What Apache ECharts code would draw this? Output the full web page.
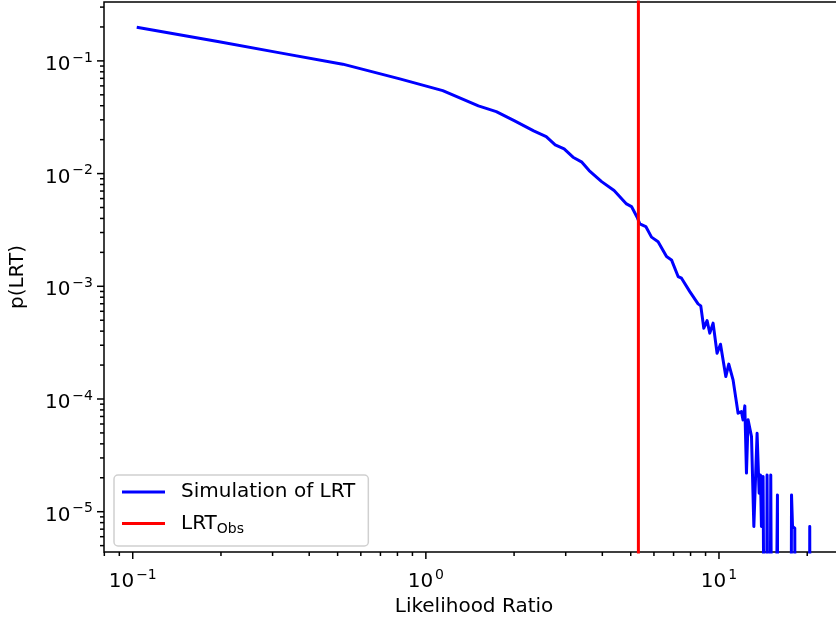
<!DOCTYPE html>
<html><head><meta charset="utf-8">
<script src="https://cdn.jsdelivr.net/npm/echarts@6/dist/echarts.min.js"></script>
<style>html,body{margin:0;padding:0;background:#fff}#c{width:836px;height:624px}</style>
</head><body><div id="c"></div>
<script>
// ---- data ----
const simX = [0.1032, 0.195, 0.318, 0.5206, 0.815, 1.142, 1.511, 1.739, 2.001, 2.333,
  2.574, 2.762, 2.963, 3.177, 3.407, 3.606, 3.978, 4.387, 4.836, 5.030,
  5.257, 5.370, 5.628, 5.886, 6.199, 6.623, 6.887, 7.254, 7.451, 7.953,
  8.486, 8.668, 8.876, 9.108, 9.303, 9.548, 9.851, 10.12, 10.55, 10.80,
  11.17, 11.62, 11.93, 12.08, 12.25, 12.41, 12.57, 12.91, 13.15, 13.49,
  13.71, 13.85, 13.96, 14.14, 14.33, 14.44, 14.59, 14.82, 15.02, 15.29,
  15.83, 15.91, 17.51, 17.68, 17.82, 18.14, 18.28, 20.29, 20.40, 20.52];
const simY = [0.199, 0.1483, 0.1178, 0.0935, 0.0692, 0.0545, 0.0399, 0.0355, 0.02954, 0.02393,
  0.02129, 0.01798, 0.01656, 0.01398, 0.01263, 0.01063, 0.00849, 0.00707, 0.00538, 0.00510,
  0.00410, 0.00358, 0.00339, 0.00273, 0.00249, 0.001835, 0.001715, 0.00122, 0.00118, 0.000897,
  0.000698, 0.00067, 0.000425, 0.000496, 0.000384, 0.000471, 0.000255, 0.000306, 0.000158, 0.000204,
  0.0001478, 7.48e-5, 7.73e-5, 6.53e-5, 8.69e-5, 2.20e-5, 6.53e-5, 4.64e-5, 7.38e-6, 4.97e-5,
  1.46e-5, 2.12e-5, 7.38e-6, 2.05e-5, 2.05e-5, 0, 2.12e-5, 0, 2.12e-5, 0,
  1.41e-5, 0, 0, 1.41e-5, 7.38e-6, 7.14e-6, 0, 0, 7.38e-6, 0];
const obsLRT = 5.31;
const xRange = [0.0798, 26.7];
const yRange = [4.39e-6, 0.333];
const xMajorTicks = [0.1, 1, 10];
const xMinorTicks = [0.08, 0.09, 0.2, 0.3, 0.4, 0.5, 0.6, 0.7, 0.8, 0.9, 2, 3, 4, 5, 6, 7, 8, 9, 20];
const yMajorTicks = [1e-5, 1e-4, 1e-3, 1e-2, 1e-1];
const yMinorTicks = [5e-6, 6e-6, 7e-6, 8e-6, 9e-6,
  2e-5, 3e-5, 4e-5, 5e-5, 6e-5, 7e-5, 8e-5, 9e-5,
  2e-4, 3e-4, 4e-4, 5e-4, 6e-4, 7e-4, 8e-4, 9e-4,
  2e-3, 3e-3, 4e-3, 5e-3, 6e-3, 7e-3, 8e-3, 9e-3,
  0.02, 0.03, 0.04, 0.05, 0.06, 0.07, 0.08, 0.09, 0.2, 0.3];
const seriesNames = ['Simulation of LRT', 'LRT_Obs'];
const xTitle = 'Likelihood Ratio';
const yTitle = 'p(LRT)';

// ---- build ----
const FONT = 'DejaVu Sans';
const FS = 20;
const FLOOR = 1e-9; // empty bins are drawn below the axis, as matplotlib clips them
const simData = simX.map((x, i) => [x, simY[i] > 0 ? simY[i] : FLOOR]);
const obsData = [[obsLRT, FLOOR], [obsLRT, 10]];

const tickData = [];
xMajorTicks.forEach(v => tickData.push([v, yRange[0], 0, 1]));
xMinorTicks.forEach(v => { if (v >= xRange[0] && v <= xRange[1]) tickData.push([v, yRange[0], 0, 0]); });
yMajorTicks.forEach(v => tickData.push([xRange[0], v, 1, 1]));
yMinorTicks.forEach(v => { if (v >= yRange[0] && v <= yRange[1]) tickData.push([xRange[0], v, 1, 0]); });

function powLabel(v) {
  const l = Math.log10(v);
  const e = Math.round(l);
  if (Math.abs(l - e) > 1e-6) return '';
  return '{b|10}{s|' + (e < 0 ? '\u2212' + (-e) : String(e)) + '}';
}
const labelRich = {
  b: { fontFamily: FONT, fontSize: FS, color: '#000' },
  s: { fontFamily: FONT, fontSize: 14, color: '#000', padding: [0, 0, 14, 2] }
};

const chart = echarts.init(document.getElementById('c'));
chart.setOption({
  animation: false,
  backgroundColor: '#fff',
  grid: { left: 104, top: 2, width: 740, height: 550, outerBoundsMode: 'none', containLabel: false,
    show: true, borderColor: '#000', borderWidth: 1.5, backgroundColor: 'transparent' },
  legend: {
    orient: 'vertical', left: 114, top: 475,
    data: seriesNames.map(n => ({ name: n, icon: 'rect' })),
    itemWidth: 43, itemHeight: 3, itemGap: 8,
    padding: [6, 13, 10, 8],
    backgroundColor: 'rgba(255,255,255,0.8)', borderColor: '#d0d0d0', borderWidth: 1.5, borderRadius: 4,
    formatter: n => n === 'LRT_Obs' ? 'LRT{sub|Obs}' : n,
    textStyle: {
      fontFamily: FONT, fontSize: FS, color: '#000', lineHeight: 22, padding: [0, 0, 0, 11],
      rich: { sub: { fontFamily: FONT, fontSize: 14, color: '#000', lineHeight: 12, padding: [11, 0, 0, 0] } }
    }
  },
  xAxis: {
    type: 'log', logBase: 10, min: xRange[0], max: xRange[1],
    name: xTitle, nameLocation: 'middle', nameGap: 45,
    nameTextStyle: { fontFamily: FONT, fontSize: FS, color: '#000' },
    axisLine: { show: false }, axisTick: { show: false }, splitLine: { show: false },
    axisLabel: { margin: 16, formatter: powLabel, rich: labelRich, showMinLabel: false, showMaxLabel: false }
  },
  yAxis: {
    type: 'log', logBase: 10, min: yRange[0], max: yRange[1],
    name: yTitle, nameLocation: 'middle', nameGap: 76,
    nameTextStyle: { fontFamily: FONT, fontSize: FS, color: '#000' },
    axisLine: { show: false }, axisTick: { show: false }, splitLine: { show: false },
    axisLabel: { margin: 11, formatter: powLabel, rich: labelRich, showMinLabel: false, showMaxLabel: false,
      padding: [0, 0, -8, 0] }
  },
  series: [
    { name: seriesNames[0], type: 'line', data: simData, symbol: 'none', clip: true,
      lineStyle: { color: '#0000ff', width: 3, join: 'round' }, itemStyle: { color: '#0000ff' }, z: 3 },
    { name: seriesNames[1], type: 'line', data: obsData, symbol: 'none', clip: true,
      lineStyle: { color: '#ff0000', width: 3 }, itemStyle: { color: '#ff0000' }, z: 4 },
    { name: 'ticks', type: 'custom', data: tickData, silent: true, clip: false, z: 5,
      encode: { x: 0, y: 1 },
      renderItem: (params, api) => {
        const p = api.coord([api.value(0), api.value(1)]);
        const isY = api.value(2) === 1;
        const len = api.value(3) === 1 ? 7 : 4;
        return { type: 'line',
          shape: isY ? { x1: p[0], y1: p[1], x2: p[0] - len, y2: p[1] } : { x1: p[0], y1: p[1], x2: p[0], y2: p[1] + len },
          style: { stroke: '#000', lineWidth: 1.5 } };
      } }
  ]
});
</script></body></html>
